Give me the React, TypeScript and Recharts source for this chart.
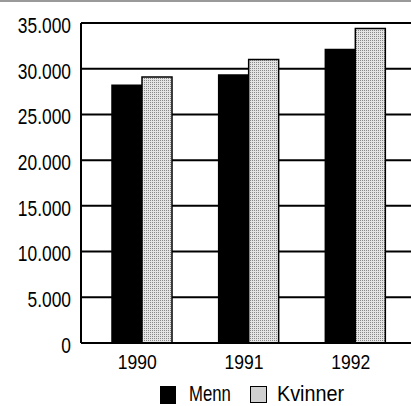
import React from "react";
import { BarChart, Bar, XAxis, YAxis, CartesianGrid, Legend } from "recharts";

const years = ["1990", "1991", "1992"];
const menn = [28200, 29300, 32100];
const kvinner = [29100, 31000, 34400];
const yTicks = [0, 5000, 10000, 15000, 20000, 25000, 30000, 35000];

const data = years.map((year, i) => ({ year, Menn: menn[i], Kvinner: kvinner[i] }));

const FONT = "'Liberation Sans', Arial, sans-serif";

const fmt = (v: number) => (v === 0 ? "0" : v.toLocaleString("de-DE"));

// narrow look: the scan uses a condensed Helvetica
const YTick = (props: any) => {
  const { x, y, payload } = props;
  return (
    <text
      transform={`translate(${x},${y + 2}) scale(0.79,1)`}
      textAnchor="end"
      dy="0.355em"
      fontFamily={FONT}
      fontSize={22}
      fill="#000"
    >
      {fmt(payload.value)}
    </text>
  );
};

const XTick = (props: any) => {
  const { x, y, payload } = props;
  return (
    <text
      transform={`translate(${x - 5},${y + 20}) scale(0.9,1)`}
      textAnchor="middle"
      fontFamily={FONT}
      fontSize={19.5}
      fill="#000"
    >
      {payload.value}
    </text>
  );
};

const legendLabel = (left: number, sx: number): React.CSSProperties => ({
  position: "absolute",
  left,
  top: 383,
  fontFamily: FONT,
  fontSize: 22,
  lineHeight: "22px",
  color: "#000",
  whiteSpace: "nowrap",
  transform: `scaleX(${sx})`,
  transformOrigin: "left",
});

const LegendContent = () => (
  <div style={{ position: "relative", width: 411, height: 406 }}>
    <div style={{ position: "absolute", left: 160, top: 386, width: 16, height: 18, background: "#000" }} />
    <div style={legendLabel(189, 0.76)}>Menn</div>
    <div
      style={{
        position: "absolute",
        left: 250,
        top: 386,
        width: 15,
        height: 15,
        background: "#d0d0d0",
        border: "1.5px solid #000",
      }}
    />
    <div style={legendLabel(277, 0.9)}>Kvinner</div>
  </div>
);

export default function App() {
  return (
    <div style={{ position: "absolute", left: 0, top: 0, width: 411, height: 406, background: "#fff", overflow: "hidden" }}>
      <div style={{ position: "absolute", top: 0, left: 0, width: 411, height: 2, background: "#9a9a9a" }} />
      <BarChart
        width={411}
        height={406}
        data={data}
        margin={{ top: 23, right: 0, left: 0, bottom: 33 }}
        barGap={0}
        barSize={30}
      >
        <defs>
          <pattern id="dots" width="2" height="2" patternUnits="userSpaceOnUse">
            <rect width="2" height="2" fill="#e4e4e4" />
            <rect width="1" height="1" fill="#888" />
          </pattern>
        </defs>
        <CartesianGrid vertical={false} stroke="#000" strokeWidth={2} />
        <XAxis
          dataKey="year"
          height={30}
          tickLine={false}
          tickMargin={0}
          padding={{ left: 8, right: 2 }}
          axisLine={{ stroke: "#000", strokeWidth: 2 }}
          tick={<XTick />}
        />
        <YAxis
          width={81}
          domain={[0, 35000]}
          ticks={yTicks}
          tickLine={false}
          tickMargin={4}
          axisLine={{ stroke: "#000", strokeWidth: 2 }}
          tick={<YTick />}
        />
        <Legend
          layout="horizontal"
          verticalAlign="middle"
          align="center"
          wrapperStyle={{ top: 0, left: 0, width: 411, height: 0 }}
          content={<LegendContent />}
        />
        <Bar dataKey="Menn" fill="#000" stroke="#000" strokeWidth={1.5} isAnimationActive={false} />
        <Bar dataKey="Kvinner" fill="url(#dots)" stroke="#000" strokeWidth={1.5} isAnimationActive={false} />
      </BarChart>
    </div>
  );
}
